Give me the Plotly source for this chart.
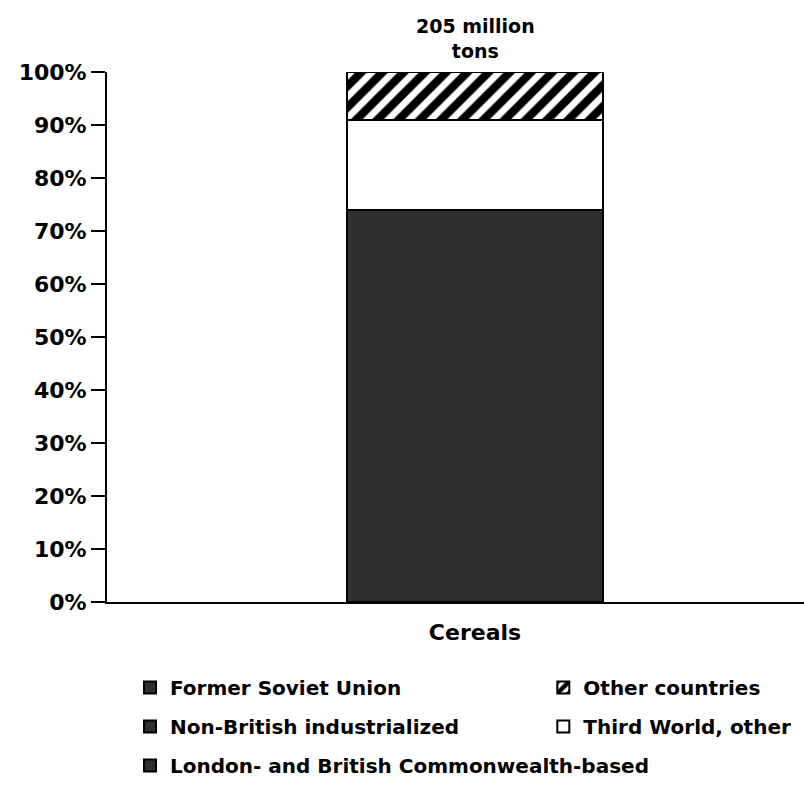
import plotly.graph_objects as go

categories = ["Cereals"]
series_names = [
    "Former Soviet Union",
    "Non-British industrialized",
    "London- and British Commonwealth-based",
    "Third World, other",
    "Other countries",
]
fsu = [0]
non_british = [0]
london = [74]
third_world = [17]
other_countries = [9]
total_label = "205 million<br>tons"

FONT = "DejaVu Sans"
DARK = "#2e2e2e"

fig = go.Figure()

common_line = dict(color="black", width=2)

fig.add_trace(go.Bar(x=categories, y=fsu, name=series_names[0],
                     marker=dict(color=DARK, line=common_line),
                     legend="legend", legendrank=1, legendgroup="a"))
fig.add_trace(go.Bar(x=categories, y=non_british, name=series_names[1],
                     marker=dict(color=DARK, line=common_line),
                     legend="legend", legendrank=2, legendgroup="b"))
fig.add_trace(go.Bar(x=categories, y=london, name=series_names[2],
                     marker=dict(color=DARK, line=common_line),
                     legend="legend", legendrank=3, legendgroup="c"))
fig.add_trace(go.Bar(x=categories, y=third_world, name=series_names[3],
                     marker=dict(color="white", line=common_line),
                     legend="legend2", legendrank=2, legendgroup="d"))
fig.add_trace(go.Bar(x=categories, y=other_countries, name=series_names[4],
                     marker=dict(color="white", line=common_line,
                                 pattern=dict(shape="/", fgcolor="black", bgcolor="white",
                                              fgopacity=1, size=15, solidity=0.55,
                                              fillmode="replace")),
                     legend="legend2", legendrank=1, legendgroup="e"))

fig.add_annotation(x=categories[0], y=100, xref="x", yref="y", text=total_label,
                   showarrow=False, yanchor="bottom", yshift=8,
                   font=dict(family=FONT, size=19, color="black", weight="bold"))

legend_font = dict(family=FONT, size=20, color="black", weight="bold")

fig.update_layout(
    width=804, height=802,
    margin=dict(l=107, r=0, t=72, b=200),
    paper_bgcolor="white", plot_bgcolor="white",
    barmode="stack",
    bargap=0,
    showlegend=True,
    legend=dict(x=0.033, y=-0.1243, xanchor="left", yanchor="top",
                orientation="v", font=legend_font, tracegroupgap=10,
                bgcolor="rgba(0,0,0,0)", traceorder="grouped", itemwidth=30),
    legend2=dict(x=0.626, y=-0.1243, xanchor="left", yanchor="top",
                 orientation="v", font=legend_font, tracegroupgap=10,
                 bgcolor="rgba(0,0,0,0)", traceorder="grouped", itemwidth=30),
    xaxis=dict(type="category", range=[-0.528, 0.472], showgrid=False,
               showline=True, linecolor="black", linewidth=2, ticks="",
               ticklabelstandoff=10,
               tickfont=dict(family=FONT, size=22, color="black", weight="bold"),
               fixedrange=True),
    yaxis=dict(range=[0, 100], tickmode="linear", tick0=0, dtick=10, ticksuffix="%",
               showgrid=False, showline=True, linecolor="black", linewidth=2,
               ticks="outside", ticklen=14, tickwidth=2, tickcolor="black",
               zeroline=False,
               tickfont=dict(family=FONT, size=22, color="black", weight="bold"),
               fixedrange=True),
)
for tr in fig.data:
    tr.width = 0.366

fig.write_html("out.html")
